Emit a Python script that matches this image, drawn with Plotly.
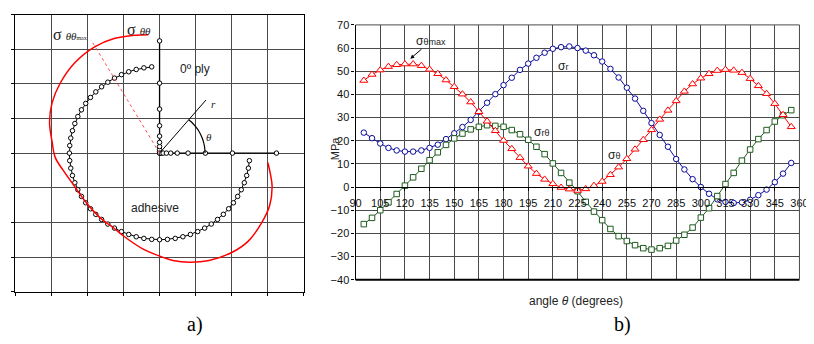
import numpy as np
import plotly.graph_objects as go

# ---------------- data ----------------
angle_deg = list(range(95, 356, 5))

sigma_theta = [46.0, 48.6, 50.5, 52.0, 52.8, 53.1, 53.1, 52.4, 50.8, 48.9,
               46.2, 43.3, 40.1, 36.7, 32.5, 28.4, 24.3, 20.1, 16.5, 12.7,
               9.0, 5.8, 3.3, 1.4, -0.2, -0.9, -1.5, -0.8, 0.6, 2.4,
               5.3, 8.6, 12.2, 16.3, 20.4, 24.7, 29.2, 33.1, 37.2, 41.3,
               44.5, 47.0, 48.9, 50.3, 50.7, 50.4, 49.4, 46.8, 43.7, 40.3,
               36.0, 31.2, 26.0]

sigma_r = [23.5, 21.1, 18.8, 16.9, 15.8, 15.3, 15.3, 15.8, 16.9, 18.3,
           20.7, 23.2, 25.9, 29.0, 32.5, 36.4, 40.1, 44.0, 47.2, 50.6,
           53.3, 55.8, 58.0, 59.7, 60.4, 60.7, 60.0, 58.9, 56.9, 54.2,
           51.0, 47.3, 42.9, 38.2, 32.9, 27.6, 22.5, 17.4, 12.1, 7.6,
           3.4, 0.0, -2.9, -5.3, -6.4, -6.9, -6.6, -5.5, -3.5, -1.1,
           2.1, 5.8, 10.4]

sigma_rtheta = [-16.0, -13.3, -10.0, -6.6, -3.0, 0.6, 4.2, 7.9, 11.6, 15.0,
                18.2, 21.0, 23.1, 24.9, 26.0, 26.7, 26.4, 26.0, 24.6, 22.8,
                20.4, 17.4, 14.2, 10.2, 6.1, 1.9, -1.8, -6.4, -10.6, -14.3,
                -18.1, -21.2, -23.3, -25.1, -26.4, -27.0, -26.4, -25.4, -23.1, -20.6,
                -17.5, -13.2, -9.1, -3.9, 1.3, 6.1, 11.4, 16.2, 20.7, 24.6,
                28.3, 31.0, 33.2]

x_ticks_b = list(range(90, 361, 15))
y_ticks_b = list(range(-40, 71, 10))

# panel a: interface ring (r = 2.5) at the same angles, mesh nodes, sigma_thetatheta curve
ring_radius = 2.5
node_r = [0, 0.05, 0.10, 0.19, 0.31, 0.49, 0.79, 1.27, 2.02, 3.24]
red_x = [-0.31, -0.72, -1.26, -1.80, -2.35, -2.76, -2.98, -3.05, -2.98, -2.89,
         -2.67, -2.35, -2.03, -1.62, -1.26, -0.99, -0.44, 0.10, 0.37, 0.83,
         1.37, 2.00, 2.46, 2.82, 3.05, 3.12, 3.07, 3.00]
red_y = [3.42, 3.40, 3.31, 3.07, 2.61, 2.01, 1.45, 0.89, 0.33, -0.13,
         -0.50, -0.97, -1.43, -1.89, -2.17, -2.40, -2.78, -3.01, -3.10, -3.15,
         -3.10, -2.87, -2.54, -2.03, -1.52, -0.96, -0.59, -0.27]
max_dir_x = [0, -1.9]
max_dir_y = [0, 3.27]
r_line_angle = 50
r_line_len = 2.0
arc_radius = 1.26
arc_angles = list(range(0, 51, 5))

# ---------------- styles ----------------
GRID = "#4a4a4a"
W, H = 814, 344
OFF = 8  # page body margin in the viewer
RED = "#ff0000"
BLUE = "#0a0a9c"
GREEN = "#1f5c1f"


def PX(p):
    return (p - OFF) / W


def PY(p):
    return 1 - (p - OFF) / H


fig = go.Figure()

# ---- panel a ----
ang = np.radians(angle_deg)
node_marker = dict(symbol="circle", size=4.5, color="white", line=dict(color="black", width=1))
fig.add_trace(go.Scatter(
    x=ring_radius * np.cos(ang), y=ring_radius * np.sin(ang),
    mode="lines+markers", xaxis="x", yaxis="y",
    line=dict(color="black", width=1), marker=node_marker))
fig.add_trace(go.Scatter(
    x=[0] * len(node_r), y=node_r, mode="lines+markers", xaxis="x", yaxis="y",
    line=dict(color="black", width=1.3), marker=node_marker))
fig.add_trace(go.Scatter(
    x=node_r, y=[0] * len(node_r), mode="lines+markers", xaxis="x", yaxis="y",
    line=dict(color="black", width=1.3), marker=node_marker))
fig.add_trace(go.Scatter(
    x=[0, r_line_len * np.cos(np.radians(r_line_angle))],
    y=[0, r_line_len * np.sin(np.radians(r_line_angle))],
    mode="lines", xaxis="x", yaxis="y", line=dict(color="black", width=1)))
aa = np.radians(arc_angles)
fig.add_trace(go.Scatter(
    x=arc_radius * np.cos(aa), y=arc_radius * np.sin(aa), mode="lines",
    xaxis="x", yaxis="y", line=dict(color="black", width=1.2, shape="spline")))
fig.add_trace(go.Scatter(
    x=max_dir_x, y=max_dir_y, mode="lines", xaxis="x", yaxis="y",
    line=dict(color="#ff5050", width=1, dash="dot")))
fig.add_trace(go.Scatter(
    x=red_x, y=red_y, mode="lines", xaxis="x", yaxis="y",
    line=dict(color=RED, width=1.5, shape="spline")))

# ---- panel b ----
fig.add_trace(go.Scatter(
    x=angle_deg, y=sigma_r, mode="lines+markers", xaxis="x2", yaxis="y2",
    line=dict(color=BLUE, width=1),
    marker=dict(symbol="circle", size=5.5, color="white", line=dict(color=BLUE, width=1))))
fig.add_trace(go.Scatter(
    x=angle_deg, y=sigma_rtheta, mode="lines+markers", xaxis="x2", yaxis="y2",
    line=dict(color=GREEN, width=1),
    marker=dict(symbol="square", size=5.5, color="white", line=dict(color=GREEN, width=1))))
fig.add_trace(go.Scatter(
    x=angle_deg, y=sigma_theta, mode="lines+markers", xaxis="x2", yaxis="y2",
    line=dict(color=RED, width=1),
    marker=dict(symbol="triangle-up", size=7, color="white", line=dict(color=RED, width=1))))

# ---------------- layout ----------------
yb_dom = [PY(283.3), PY(19.3)]
zero_pos = yb_dom[0] + (0 - (-40)) / 110 * (yb_dom[1] - yb_dom[0])

axis_a = dict(range=[-4, 4], dtick=1, tick0=0, showgrid=True, gridcolor=GRID, gridwidth=1,
              zeroline=False, showline=True, linecolor="black", linewidth=1.2, mirror=True,
              ticks="outside", ticklen=3, tickcolor="black", showticklabels=False, fixedrange=True)

fig.update_layout(
    width=W, height=H, margin=dict(l=0, r=0, t=0, b=0),
    paper_bgcolor="white", plot_bgcolor="white", showlegend=False,
    font=dict(family="Liberation Sans, Arial, sans-serif", size=11, color="black"),
    xaxis=dict(axis_a, domain=[PX(9.3), PX(303.3)], anchor="y"),
    yaxis=dict(axis_a, domain=[PY(295.7), PY(8.6)], anchor="x"),
    xaxis2=dict(domain=[PX(356), PX(808.2)], range=[90, 360], tickvals=x_ticks_b,
                anchor="free", position=zero_pos, showgrid=True, gridcolor=GRID, gridwidth=1,
                zeroline=False, showline=True, linecolor="black", linewidth=1,
                ticks="outside", ticklen=3, tickcolor="black", ticklabelstandoff=3,
                tickfont=dict(size=11, color="#111")),
    yaxis2=dict(domain=yb_dom, range=[-40, 70], tickvals=y_ticks_b, anchor="x2",
                showgrid=True, gridcolor=GRID, gridwidth=1, zeroline=False,
                showline=True, linecolor="black", linewidth=1.2,
                ticks="outside", ticklen=3, tickcolor="black",
                tickfont=dict(size=11, color="#111")),
    shapes=[
        dict(type="line", xref="x2 domain", yref="y2 domain", x0=0, x1=1, y0=0, y1=0,
             line=dict(color="black", width=2)),
        dict(type="line", xref="x2 domain", yref="y2 domain", x0=0, x1=1, y0=1, y1=1,
             line=dict(color=GRID, width=1)),
        dict(type="line", xref="x2 domain", yref="y2 domain", x0=1, x1=1, y0=0, y1=1,
             line=dict(color=GRID, width=1)),
    ],
)

serif = "Liberation Serif, Times New Roman, serif"
ann = [
    # panel a labels
    dict(x=-2.48, y=3.43, xref="x", yref="y",
         text="σ <i><span style='font-size:11px'>θθ</span></i><span style='font-size:6px'>max</span>",
         font=dict(family=serif, size=16, color="#222")),
    dict(x=-0.58, y=3.57, xref="x", yref="y",
         text="σ <i><span style='font-size:11px'>θθ</span></i>",
         font=dict(family=serif, size=16, color="#222")),
    dict(x=0.97, y=2.42, xref="x", yref="y", text="0º ply",
         font=dict(size=12, color="#222")),
    dict(x=-0.14, y=-1.59, xref="x", yref="y", text="adhesive",
         font=dict(size=12, color="#222")),
    dict(x=1.49, y=1.42, xref="x", yref="y", text="<i>r</i>",
         font=dict(family=serif, size=11, color="#222")),
    dict(x=1.38, y=0.47, xref="x", yref="y", text="<i>θ</i>",
         font=dict(family=serif, size=11, color="#222")),
    # panel b labels
    dict(x=123.3, y=55.4, xref="x2", yref="y2",
         text="σ<span style='font-size:9px'>θmax</span>",
         showarrow=True, arrowhead=2, arrowsize=0.8, arrowwidth=1, arrowcolor="black",
         ax=21, ay=-18, standoff=0, font=dict(size=12, color="#222")),
    dict(x=216, y=52.2, xref="x2", yref="y2", text="σ<span style='font-size:9px'>r</span>",
         font=dict(size=12, color="#222")),
    dict(x=202.8, y=23.9, xref="x2", yref="y2", text="σ<span style='font-size:9px'>rθ</span>",
         font=dict(size=12, color="#222")),
    dict(x=247.3, y=13.9, xref="x2", yref="y2", text="σ<span style='font-size:9px'>θ</span>",
         font=dict(size=12, color="#222")),
    # axis titles
    dict(x=PX(581), y=PY(305), xref="paper", yref="paper",
         text="angle <i>θ</i> (degrees)", font=dict(size=12, color="#222")),
    dict(x=PX(335), y=PY(147), xref="paper", yref="paper", text="MPa",
         textangle=-90, font=dict(size=11, color="#222")),
    # panel captions
    dict(x=PX(192), y=PY(330), xref="paper", yref="paper", text="a)",
         font=dict(family=serif, size=20, color="black")),
    dict(x=PX(628), y=PY(330), xref="paper", yref="paper", text="b)",
         font=dict(family=serif, size=20, color="black")),
]
for a in ann:
    a.setdefault("showarrow", False)
    if not a["showarrow"]:
        a["xanchor"] = "center"
        a["yanchor"] = "middle"
fig.update_layout(annotations=ann)

fig.write_html("out.html")
